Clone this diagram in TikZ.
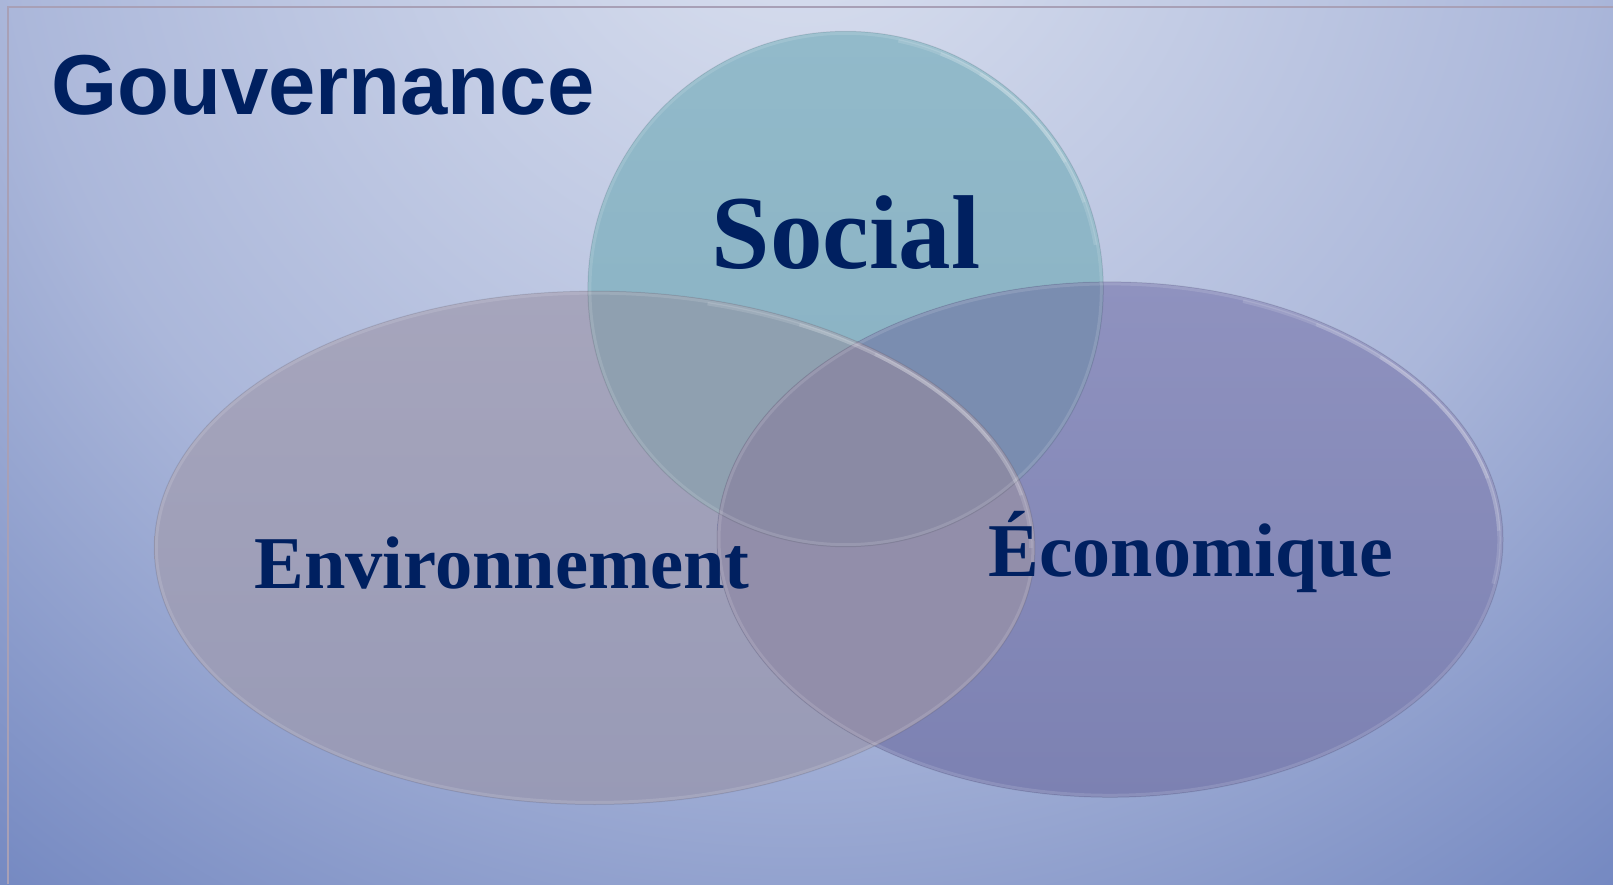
\documentclass[tikz,border=0pt]{standalone}
\usepackage{fontspec}
\newfontfamily\gsans{Liberation Sans}
\newfontfamily\gserif{Liberation Serif}
\definecolor{navy}{RGB}{0,32,96}
\definecolor{bordercol}{RGB}{168,160,182}
\definecolor{Stop}{RGB}{146,186,202}
\definecolor{Sbot}{RGB}{136,176,194}
\definecolor{Etop}{RGB}{166,165,188}
\definecolor{Ebot}{RGB}{152,154,182}
\definecolor{Ctop}{RGB}{143,146,191}
\definecolor{Cbot}{RGB}{124,129,178}
\definecolor{SEcol}{RGB}{143,160,176}
\definecolor{SCcol}{RGB}{122,141,176}
\definecolor{ECcol}{RGB}{146,142,170}
\definecolor{SECcol}{RGB}{138,138,164}
\pgfdeclareradialshading{bgshade}{\pgfpoint{0bp}{0bp}}{rgb(0bp)=(0.863,0.886,0.941); rgb(14.3bp)=(0.671,0.718,0.855); rgb(17.9bp)=(0.588,0.647,0.816); rgb(23.2bp)=(0.463,0.541,0.761); rgb(25bp)=(0.44,0.52,0.75); rgb(50bp)=(0.44,0.52,0.75)}
\def\socialpath{(845.6,595) circle (257.7)}
\def\envpath{(594.6,336.2) ellipse [x radius=440.3, y radius=256.7]}
\def\ecopath{(1110,344.4) ellipse [x radius=393, y radius=257.7]}
\tikzset{
  rim/.style={white, opacity=0.12, line width=3},
  glint/.style={white, opacity=0.13, line width=3.5},
  edge/.style={black, opacity=0.08, line width=1},
  lbl/.style={inner sep=0, text=navy, anchor=base},
}
\begin{document}
\begin{tikzpicture}[x=1pt,y=1pt]
\useasboundingbox (0,0) rectangle (1613,884);
\begin{scope}
  \clip (0,0) rectangle (1613,884);
  \shade[shading=bgshade] (800,1034) circle (1400);
\end{scope}
% base fills
\shade[top color=Stop, bottom color=Sbot] \socialpath;
\shade[top color=Etop, bottom color=Ebot] \envpath;
\shade[top color=Ctop, bottom color=Cbot] \ecopath;
% intersections
\begin{scope}
  \clip \socialpath;
  \fill[SEcol] \envpath;
  \fill[SCcol] \ecopath;
\end{scope}
\begin{scope}
  \clip \envpath;
  \fill[ECcol] \ecopath;
\end{scope}
\begin{scope}
  \clip \socialpath;
  \clip \envpath;
  \fill[SECcol] \ecopath;
\end{scope}
% rims
\draw[edge] \socialpath;
\draw[edge] \envpath;
\draw[edge] \ecopath;
\draw[rim] (845.6,595) circle (255.7);
\draw[rim] (594.6,336.2) ellipse [x radius=438.3, y radius=254.7];
\draw[rim] (1110,344.4) ellipse [x radius=391, y radius=255.7];
% highlights (upper right), faded by overlapping arcs
\foreach \a/\b in {78/10, 68/20, 58/30} {
  \draw[glint] (845.6,595) ++(\a:253.7) arc[start angle=\a, end angle=\b, radius=253.7];
}
\foreach \a/\b in {75/0, 62/12, 50/25} {
  \draw[glint] (594.6,336.2) ++(\a:{436.3 and 252.7}) arc[start angle=\a, end angle=\b, x radius=436.3, y radius=252.7];
}
\foreach \a/\b in {70/-10, 58/2, 46/14} {
  \draw[glint] (1110,344.4) ++(\a:{389 and 253.7}) arc[start angle=\a, end angle=\b, x radius=389, y radius=253.7];
}
% border
\draw[bordercol, line width=2] (1613,877) -- (8,877) -- (8,0);
% labels
\node[lbl, anchor=base west, font=\gsans\bfseries\fontsize{85}{85}\selectfont] (gov) at (51,769) {Gouvernance};
\node[lbl, font=\gserif\bfseries\fontsize{105}{105}\selectfont] (social) at (846,615) {Social};
\node[lbl, font=\gserif\bfseries\fontsize{74.5}{74.5}\selectfont] (env) at (502,296) {Environnement};
\node[lbl, font=\gserif\bfseries\fontsize{76}{76}\selectfont] (eco) at (1191,308) {Économique};
\end{tikzpicture}
\end{document}
